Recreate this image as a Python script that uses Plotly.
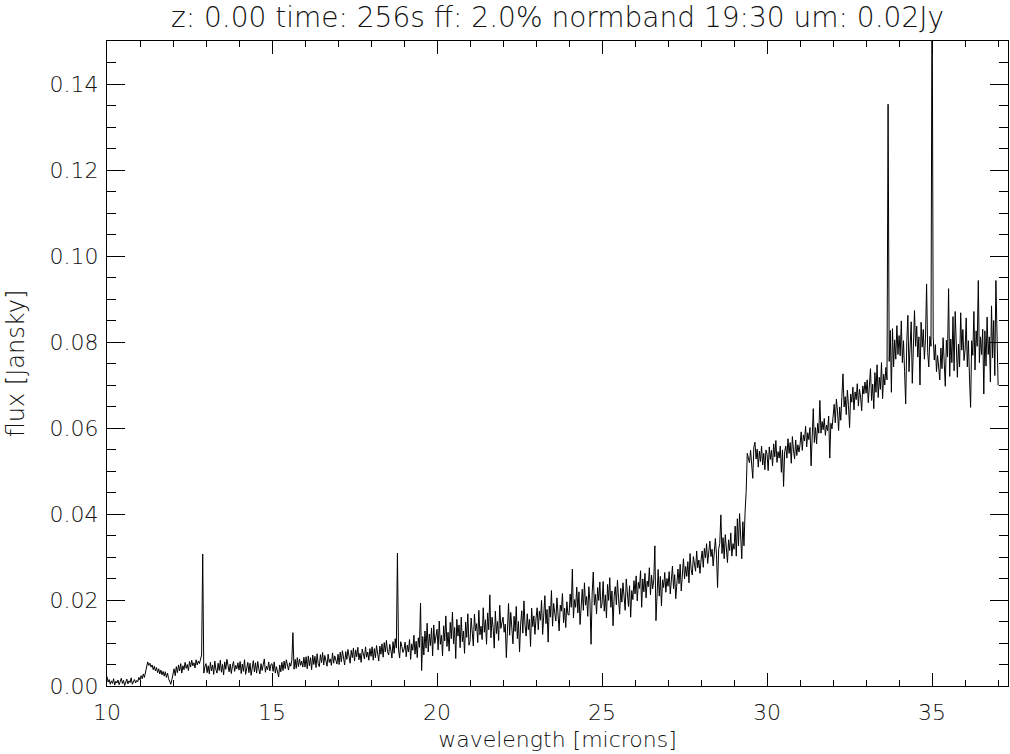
import numpy as np
import plotly.graph_objects as go

# Flux samples in units of 1e-4 Jy, one list per micron of wavelength
# (samples evenly spaced across each micron, starting at the integer wavelength)
flux_rows = {
    10: [22, 9, 15, 4, 12, 6, 17, 2, 11, 7, 14, 3, 10, 18, 6, 13, 1, 9, 16, 5,
         12, 8, 19, 4, 11, 15, 7, 13, 10, 20],
    11: [14, 24, 17, 28, 20, 31, 38, 56, 48, 53, 44, 49, 38, 46, 35, 43, 31, 40, 28, 37,
         26, 34, 23, 33, 20, 30, 17, 12, 4, 15],
    12: [26, 40, 24, 45, 31, 49, 35, 52, 30, 47, 38, 55, 41, 50, 36, 57, 44, 60, 47, 54,
         42, 61, 49, 58, 52, 66, 72, 307, 30, 45],
    13: [52, 31, 47, 28, 55, 35, 49, 27, 58, 38, 30, 53, 36, 60, 32, 50, 26, 56, 39, 62,
         44, 33, 51, 29, 46, 57, 34, 48, 40, 54],
    14: [37, 57, 29, 51, 34, 61, 27, 48, 55, 31, 53, 25, 50, 59, 33, 54, 30, 57, 40, 28,
         52, 36, 49, 63, 32, 46, 38, 56, 35, 50],
    15: [52, 34, 56, 30, 45, 35, 21, 49, 33, 55, 36, 58, 40, 61, 43, 37, 54, 46, 60, 124,
         39, 62, 41, 66, 45, 63, 48, 58, 44, 67],
    16: [44, 68, 40, 70, 47, 66, 38, 72, 50, 69, 43, 75, 52, 45, 73, 54, 78, 49, 71, 58,
         46, 74, 55, 63, 48, 77, 53, 70, 60, 51],
    17: [74, 50, 79, 56, 82, 59, 49, 80, 62, 85, 64, 53, 83, 66, 88, 58, 84, 68, 90, 61,
         76, 55, 86, 70, 63, 91, 67, 79, 60, 87],
    18: [69, 91, 60, 87, 66, 94, 71, 58, 93, 74, 98, 67, 101, 79, 106, 80, 72, 97, 84, 65,
         103, 76, 110, 88, 309, 84, 65, 103, 92, 78],
    19: [85, 102, 68, 95, 79, 108, 62, 98, 83, 118, 74, 104, 66, 112, 90, 193, 36, 115, 72, 128,
         88, 146, 79, 121, 94, 135, 70, 142, 99, 118],
    20: [132, 84, 151, 97, 118, 70, 140, 105, 163, 92, 125, 81, 148, 110, 172, 98, 136, 64, 155, 116,
         142, 89, 160, 103, 128, 76, 149, 113, 168, 95],
    21: [104, 158, 120, 93, 167, 128, 145, 101, 176, 119, 139, 108, 182, 125, 154, 97, 170, 131, 212, 112,
         160, 136, 88, 174, 122, 150, 106, 188, 134, 146],
    22: [160, 125, 144, 66, 149, 192, 118, 171, 135, 98, 162, 127, 185, 110, 150, 79, 144, 175, 123, 198,
         140, 116, 168, 131, 155, 92, 181, 138, 163, 120],
    23: [158, 182, 131, 174, 153, 199, 120, 168, 210, 145, 178, 102, 186, 160, 222, 139, 192, 170, 151, 205,
         163, 128, 188, 174, 215, 147, 181, 136, 196, 166],
    24: [165, 214, 183, 272, 158, 201, 183, 230, 170, 219, 143, 197, 225, 176, 240, 188, 208, 162, 231, 196,
         97, 214, 265, 188, 213, 168, 229, 199, 242, 181],
    25: [191, 243, 174, 212, 158, 236, 199, 252, 183, 221, 140, 208, 231, 189, 246, 203, 167, 227, 195, 240,
         214, 176, 249, 206, 185, 233, 160, 222, 201, 245],
    26: [214, 256, 198, 241, 227, 268, 183, 249, 219, 262, 205, 244, 231, 275, 212, 258, 226, 247, 326, 152,
         238, 271, 209, 255, 186, 247, 229, 264, 218, 250],
    27: [232, 266, 214, 251, 279, 226, 259, 203, 247, 272, 238, 283, 221, 261, 296, 249, 278, 255, 289, 240,
         308, 271, 258, 301, 280, 267, 314, 275, 293, 262],
    28: [293, 314, 276, 320, 298, 331, 285, 312, 337, 301, 318, 279, 326, 343, 305, 229, 318, 332, 398, 308,
         345, 296, 352, 321, 287, 340, 315, 356, 302, 331],
    29: [318, 372, 302, 389, 326, 401, 341, 296, 382, 326, 404, 452, 541, 532, 519, 548, 505, 483, 556, 567,
         528, 551, 509, 546, 522, 558, 514, 541, 503, 549],
    30: [539, 501, 556, 527, 548, 512, 563, 533, 571, 520, 545, 530, 558, 497, 549, 464, 545, 558, 530, 575,
         541, 566, 518, 580, 549, 528, 572, 536, 561, 544],
    31: [562, 591, 548, 584, 570, 604, 556, 589, 573, 601, 512, 579, 645, 566, 601, 563, 611, 588, 664, 588,
         615, 596, 622, 583, 607, 594, 628, 530, 611, 598],
    32: [628, 655, 612, 667, 640, 594, 649, 618, 673, 726, 649, 673, 631, 688, 652, 601, 679, 660, 695, 642,
         684, 666, 703, 651, 690, 672, 640, 698, 679, 707],
    33: [681, 712, 659, 695, 738, 664, 702, 645, 729, 683, 747, 671, 718, 690, 752, 668, 725, 700, 741, 712,
         1353, 755, 827, 683, 831, 742, 805, 760, 838, 771],
    34: [815, 768, 849, 752, 803, 731, 656, 803, 862, 731, 795, 847, 704, 821, 873, 790, 837, 765, 812, 700,
         846, 788, 829, 760, 808, 935, 776, 742, 813, 790],
    35: [1700, 812, 758, 794, 731, 769, 745, 712, 786, 738, 810, 752, 697, 804, 765, 924, 720, 807, 752, 859,
         733, 871, 764, 718, 795, 742, 868, 781, 829, 757],
    36: [781, 856, 742, 803, 716, 648, 803, 769, 871, 735, 826, 790, 943, 752, 812, 771, 830, 679, 826, 744,
         858, 771, 812, 707, 884, 763, 850, 722, 943, 820],
    37: [699],
}
FLUX_UNIT = 1e-4  # Jy per stored unit

wave_list, flux_list = [], []
for start, row in flux_rows.items():
    n = len(row) if start < 37 else 1
    for i, v in enumerate(row):
        wave_list.append(start + i / (30 if n > 1 else 1))
        flux_list.append(v * FLUX_UNIT)
wave = np.array(wave_list)
flux = np.array(flux_list)

x_ticks = [10, 15, 20, 25, 30, 35]
y_ticks = [0.00, 0.02, 0.04, 0.06, 0.08, 0.10, 0.12, 0.14]

title_text = "z: 0.00 time: 256s ff: 2.0% normband 19:30 um: 0.02Jy"
x_title = "wavelength [microns]"
y_title = "flux [Jansky]"

FONT = "DejaVu Sans"
TXT = "#111111"

fig = go.Figure()
fig.add_trace(go.Scatter(x=wave, y=flux, mode="lines",
                         line=dict(color="black", width=1.0),
                         showlegend=False, hoverinfo="skip"))

axis_common = dict(
    showline=True, linecolor="black", linewidth=1.2, mirror="ticks",
    showgrid=False, zeroline=False, ticks="inside", tickcolor="black",
    tickfont=dict(family=FONT, size=22, color=TXT, weight=200),
)

fig.update_xaxes(
    **axis_common,
    range=[10, 37.3], tickmode="array", tickvals=x_ticks,
    ticktext=[str(v) for v in x_ticks], ticklen=13, tickwidth=1.1,
    ticklabelstandoff=6,
    minor=dict(ticks="inside", ticklen=6, dtick=1, tick0=10, tickcolor="black", tickwidth=1.1, showgrid=False),
    title=dict(text=x_title, font=dict(family=FONT, size=22, color=TXT, weight=200), standoff=8),
)
fig.update_yaxes(
    **axis_common,
    range=[0, 0.15], tickmode="array", tickvals=y_ticks,
    ticktext=[f"{v:.2f}" for v in y_ticks], ticklen=18, tickwidth=1.1,
    ticklabelstandoff=3,
    minor=dict(ticks="inside", ticklen=9, dtick=0.005, tick0=0, tickcolor="black", tickwidth=1.1, showgrid=False),
    title=dict(text=y_title, font=dict(family=FONT, size=24, color=TXT, weight=200), standoff=18),
)

fig.update_layout(
    width=1010, height=754,
    margin=dict(l=107, r=2, t=41, b=68),
    paper_bgcolor="white", plot_bgcolor="white",
    title=dict(text=title_text, x=0.5, xref="paper", y=1 - 17 / 754, yref="container",
               yanchor="middle", xanchor="center",
               font=dict(family=FONT, size=28, color=TXT, weight=200)),
)

fig.write_html("out.html", config={"displayModeBar": False},
               post_script="document.body.style.margin='0';")
